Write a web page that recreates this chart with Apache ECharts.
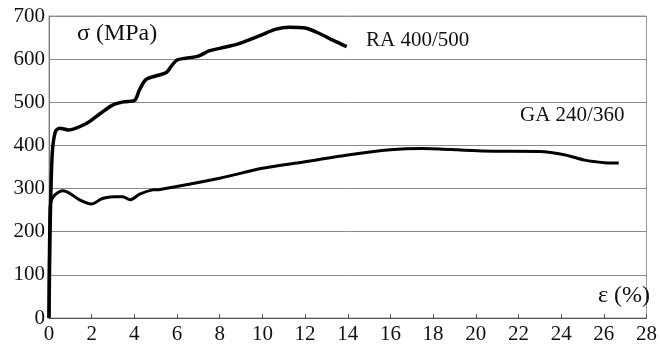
<!DOCTYPE html>
<html>
<head>
<meta charset="utf-8">
<script src="https://cdn.jsdelivr.net/npm/echarts@6/dist/echarts.min.js"></script>
<style>html,body{margin:0;padding:0;background:#fff}#c{width:660px;height:347px}</style>
</head>
<body>
<div id="c"></div>
<script>
// Data
var xTicks = [0,2,4,6,8,10,12,14,16,18,20,22,24,26,28];
var yTicks = [0,100,200,300,400,500,600,700];

var raStrain = [0, 0.05, 0.15, 0.3, 0.5, 0.9, 1.75, 2.4, 3.0, 3.5, 4.0, 4.25, 4.55, 5.0, 5.5, 5.75, 6.0, 6.4, 7.0, 7.5, 8.0, 8.9, 10.0, 10.6, 11.25, 12.0, 12.65, 13.3, 13.95];
var raStress = [0, 200, 380, 432, 440, 436, 451, 474, 494, 501, 504, 530, 553, 561, 569, 585, 598, 602, 607, 619, 625, 636, 657, 669, 674, 672, 660, 644, 629];

var gaStrain = [0, 0.05, 0.2, 0.65, 0.97, 1.43, 1.98, 2.5, 3.05, 3.45, 3.8, 4.25, 4.85, 5.2, 8.0, 10.0, 12.0, 14.0, 16.0, 17.5, 18.3, 20.3, 23.0, 24.2, 25.1, 26.05, 26.7];
var gaStress = [0, 255, 281, 295, 289, 274, 264, 277, 281, 281, 274, 287, 297, 298, 324, 347, 362, 378, 390, 393, 392, 387, 386, 378, 366, 360, 359];

var labelRA = "RA 400/500";
var labelGA = "GA 240/360";
var yTitle = "σ (MPa)";
var xTitle = "ε (%)";

function pairs(xs, ys){ return xs.map(function(x,i){ return [x, ys[i]]; }); }

var serif = "'Liberation Serif', 'DejaVu Serif', serif";
var chart = echarts.init(document.getElementById('c'), null, {renderer:'canvas'});
chart.setOption({
  animation: false,
  backgroundColor: '#fff',
  grid: { left: 49, right: 12, top: 16, bottom: 29, show: true, borderColor: '#999', borderWidth: 1, backgroundColor: 'transparent' },
  xAxis: {
    type: 'value', min: 0, max: 28, interval: 2,
    axisLine: { show: true, lineStyle: { color: '#555', width: 1 } },
    axisTick: { show: true, inside: true, length: 4, lineStyle: { color: '#555' } },
    axisLabel: { color: '#111', fontFamily: serif, fontSize: 21, margin: 6 },
    splitLine: { show: false }
  },
  yAxis: {
    type: 'value', min: 0, max: 700, interval: 100,
    axisLine: { show: true, lineStyle: { color: '#777', width: 1 } },
    axisTick: { show: false },
    axisLabel: { color: '#111', fontFamily: serif, fontSize: 21, margin: 4 },
    splitLine: { show: true, lineStyle: { color: '#888', width: 1 } }
  },
  series: [
    { type: 'line', name: labelRA, data: pairs(raStrain, raStress), smooth: 0.3, showSymbol: false,
      lineStyle: { color: '#000', width: 3.5 }, z: 5 },
    { type: 'line', name: labelGA, data: pairs(gaStrain, gaStress), smooth: 0.3, showSymbol: false,
      lineStyle: { color: '#000', width: 3 }, z: 5 }
  ],
  graphic: [
    { type: 'text', left: 77, top: 22, style: { text: yTitle, fontFamily: serif, fontSize: 24, fill: '#111' } },
    { type: 'text', left: 366, top: 30, style: { text: labelRA, fontFamily: serif, fontSize: 21, fill: '#111' } },
    { type: 'text', left: 520, top: 105, style: { text: labelGA, fontFamily: serif, fontSize: 21, fill: '#111' } },
    { type: 'text', left: 598, top: 284, style: { text: xTitle, fontFamily: serif, fontSize: 24, fill: '#111' } }
  ]
});
</script>
</body>
</html>
